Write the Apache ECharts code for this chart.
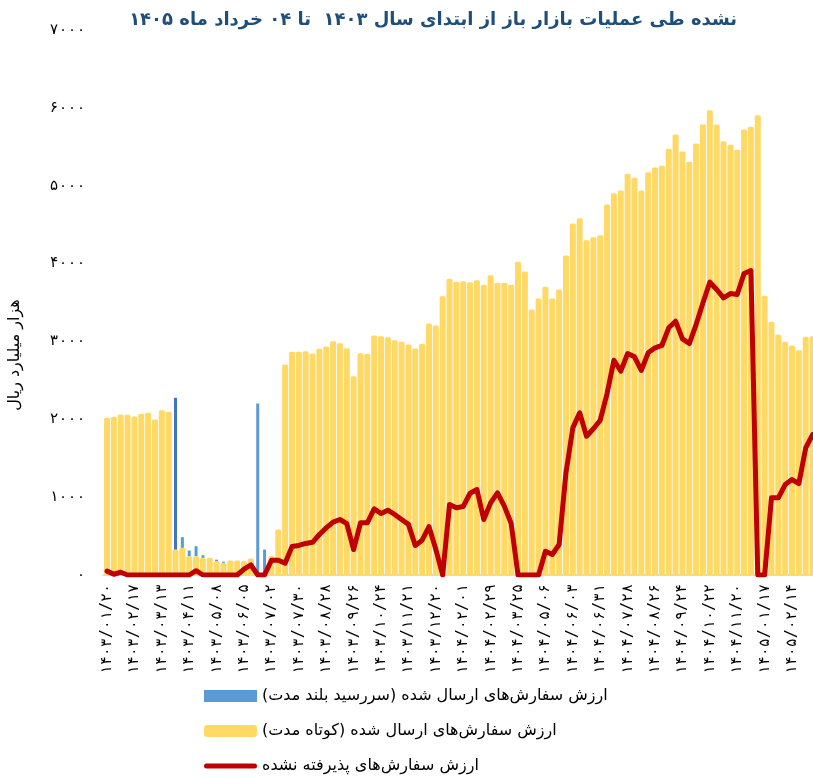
<!DOCTYPE html>
<html><head><meta charset="utf-8">
<script src="https://cdn.jsdelivr.net/npm/echarts@6/dist/echarts.min.js"></script>
<style>html,body{margin:0;padding:0;background:#fff}#main{width:813px;height:779px}</style>
</head><body><div id="main" dir="rtl"></div>
<script>
const titleText = 'نشده طی عملیات بازار باز از ابتدای سال ۱۴۰۳  تا ۰۴ خرداد ماه ۱۴۰۵';
const yAxisName = 'هزار میلیارد ریال';
const seriesNames = [
  'ارزش سفارش‌های ارسال شده (سررسید بلند مدت)',
  'ارزش سفارش‌های ارسال شده (کوتاه مدت)',
  'ارزش سفارش‌های پذیرفته نشده'
];
const categories = [
 '1403/01/20','1403/01/27','1403/02/03','1403/02/10','1403/02/17','1403/02/24','1403/02/31','1403/03/06','1403/03/13','1403/03/20',
 '1403/03/27','1403/04/04','1403/04/11','1403/04/18','1403/04/25','1403/05/01','1403/05/08','1403/05/15','1403/05/22','1403/05/29',
 '1403/06/05','1403/06/12','1403/06/19','1403/06/26','1403/07/02','1403/07/09','1403/07/16','1403/07/23','1403/07/30','1403/08/07',
 '1403/08/14','1403/08/21','1403/08/28','1403/09/05','1403/09/12','1403/09/19','1403/09/26','1403/10/03','1403/10/10','1403/10/17',
 '1403/10/24','1403/11/01','1403/11/08','1403/11/14','1403/11/21','1403/11/28','1403/12/05','1403/12/13','1403/12/20','1403/12/27',
 '1404/01/18','1404/01/25','1404/02/01','1404/02/08','1404/02/15','1404/02/22','1404/02/29','1404/03/05','1404/03/11','1404/03/18',
 '1404/03/25','1404/04/16','1404/04/23','1404/04/30','1404/05/06','1404/05/13','1404/05/20','1404/05/27','1404/06/03','1404/06/10',
 '1404/06/17','1404/06/24','1404/06/31','1404/07/07','1404/07/14','1404/07/21','1404/07/28','1404/08/05','1404/08/12','1404/08/19',
 '1404/08/26','1404/09/03','1404/09/10','1404/09/17','1404/09/24','1404/10/01','1404/10/08','1404/10/15','1404/10/22','1404/10/29',
 '1404/11/06','1404/11/13','1404/11/20','1404/11/27','1404/12/04','1404/12/11','1405/01/17','1405/01/24','1405/01/31','1405/02/07',
 '1405/02/14','1405/02/21','1405/02/28','1405/03/04'
];
const shortTerm = [
 2019,2032,2061,2057,2036,2070,2083,1997,2117,2096,
 327,349,242,242,221,221,177,156,186,186,
 177,212,0,0,245,584,2703,2867,2867,2875,
 2845,2905,2935,3003,2977,2913,2553,2849,2841,3076,
 3067,3054,3016,2995,2960,2909,2969,3230,3205,3581,
 3804,3766,3774,3761,3787,3727,3851,3753,3753,3727,
 4023,3898,3410,3551,3701,3551,3667,4104,4515,4583,
 4300,4339,4365,4759,4904,4939,5153,5101,4939,5174,
 5234,5256,5474,5658,5439,5307,5542,5790,5970,5786,
 5572,5525,5461,5722,5757,5906,3586,3252,3085,2995,
 2948,2887,3059,3067
];
const longTerm = [
 0,0,0,0,0,0,0,0,0,0,
 1949,137,73,128,33,0,20,15,0,0,
 0,0,2203,327,0,0,0,0,0,0,
 0,0,0,0,0,0,0,0,0,0,
 0,0,0,0,0,0,0,0,0,0,
 0,0,0,0,0,0,0,0,0,0,
 0,0,0,0,0,0,0,0,0,0,
 0,0,0,0,0,0,0,0,0,0,
 0,0,0,0,0,0,0,0,0,0,
 0,0,0,0,0,0,0,0,0,0,
 0,0,0,0
];
const unaccepted = [
 50,10,35,0,0,0,0,0,0,0,
 0,0,0,55,0,0,0,0,0,0,
 75,130,0,0,190,190,150,365,380,405,
 420,520,605,680,713,660,327,670,670,850,
 790,832,777,713,650,380,447,620,330,0,
 905,863,880,1050,1098,713,927,1055,884,661,
 0,0,0,0,305,263,392,1313,1890,2083,
 1783,1878,1988,2330,2758,2618,2845,2802,2627,2854,
 2918,2948,3175,3260,3033,2973,3217,3496,3761,3667,
 3560,3615,3603,3872,3910,0,0,991,991,1162,
 1226,1175,1633,1804
];
const yMin = 0, yMax = 7000, yStep = 1000;

const FONT = 'DejaVu Sans';
const NUMFONT = 'DejaVu Sans Mono, DejaVu Sans';
const faDigits = '۰۱۲۳۴۵۶۷۸۹';
function toFa(s){ return String(s).replace(/\d/g, d => faDigits[+d]); }

const chart = echarts.init(document.getElementById('main'), null, {renderer:'canvas'});
const option = {
  animation: false,
  backgroundColor: '#ffffff',
  textStyle: {fontFamily: FONT},
  title: {
    text: titleText, right: 71, top: 6,
    textStyle: {fontFamily: FONT, fontSize: 18, fontWeight: 'bold', color: '#1f4e79'}
  },
  grid: {left: 103.6, top: 30, width: 712.4, height: 545, containLabel: false, outerBoundsMode: 'none'},
  legend: {
    orient: 'vertical', left: 199, top: 675, height: 110,
    itemWidth: 53, itemHeight: 12, itemGap: 3,
    selectedMode: false,
    textStyle: {fontFamily: FONT, fontSize: 16, lineHeight: 19, padding: [13, 0, 0, 0], color: '#000'},
    data: [
      {name: seriesNames[0], icon: 'rect', itemStyle: {color: '#5b9bd5'}},
      {name: seriesNames[1], icon: 'roundRect', itemStyle: {color: '#ffd966'}},
      {name: seriesNames[2], icon: 'path://M2.5,0 L50.5,0 A2.5,2.5 0 0 1 50.5,5 L2.5,5 A2.5,2.5 0 0 1 2.5,0 Z',
       itemStyle: {color: '#c00000'}}
    ]
  },
  xAxis: [{
    type: 'category', data: categories, gridIndex: 0,
    axisLine: {show: true, lineStyle: {color: '#d9d9d9', width: 2}},
    axisTick: {show: false},
    axisLabel: {rotate: 90, interval: 3, fontFamily: NUMFONT, fontSize: 15, color: '#000', margin: 9, formatter: v => toFa(v)},
    splitLine: {show: false}
  }, {
    type: 'category', data: categories, gridIndex: 0, show: false
  }],
  yAxis: [{
    type: 'value', min: yMin, max: yMax, interval: yStep,
    axisLine: {show: false}, axisTick: {show: false}, splitLine: {show: false},
    axisLabel: {fontFamily: NUMFONT, fontSize: 15, color: '#000', margin: 18, formatter: v => toFa(v)}
  }, {
    type: 'value', min: yMin, max: yMax, interval: yStep, show: false, splitLine: {show: false}
  }],
  graphic: [{
    type: 'text', x: 15, y: 355, rotation: Math.PI / 2,
    style: {text: yAxisName, fontFamily: FONT, fontSize: 16, fill: '#000', align: 'center', verticalAlign: 'middle'}
  }],
  series: [{
    name: seriesNames[1], type: 'bar', data: shortTerm, stack: 'total',
    xAxisIndex: 0, yAxisIndex: 0, barWidth: 6,
    itemStyle: {color: '#ffd966', borderRadius: [1.5, 1.5, 0, 0]}, z: 2
  }, {
    name: seriesNames[0], type: 'bar', data: longTerm, stack: 'total',
    xAxisIndex: 1, yAxisIndex: 1, barWidth: 3,
    itemStyle: {color: p => p.dataIndex === 10 ? '#4472c4' : '#5b9bd5'}, z: 3
  }, {
    name: seriesNames[2], type: 'line', data: unaccepted,
    xAxisIndex: 0, yAxisIndex: 0, symbol: 'none', showSymbol: false,
    itemStyle: {color: '#c00000'},
    lineStyle: {color: '#c00000', width: 5, cap: 'round', join: 'round'}, z: 5
  }]
};
chart.setOption(option);
</script></body></html>
